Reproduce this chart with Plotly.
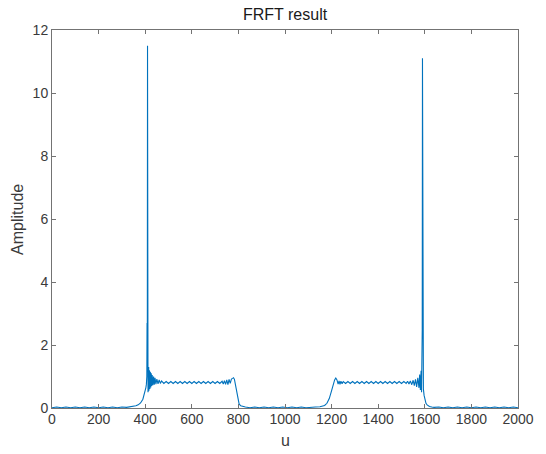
import plotly.graph_objects as go

# u positions and FRFT amplitudes
u_vals = [
    0, 20, 40, 60, 80, 100, 120, 140, 160, 180, 200, 220, 240, 260, 280, 300, 320, 340,
    350, 360, 370, 380, 390, 395, 400, 403, 405, 407, 408, 409, 410, 411, 412, 413, 414,
    415, 416, 418, 420, 422, 424, 426, 428, 430, 433, 436, 439, 442, 446, 450, 455, 460,
    465, 470, 480, 490, 500, 510, 520, 530, 540, 550, 560, 570, 580, 590, 600, 610, 620,
    630, 640, 650, 660, 670, 680, 690, 700, 710, 720, 730, 735, 740, 745, 750, 755, 760,
    765, 770, 775, 779, 783, 788, 793, 798, 803, 810, 820, 830, 850, 870, 890, 910, 930,
    950, 970, 990, 1010, 1030, 1050, 1070, 1090, 1110, 1130, 1150, 1160, 1170, 1180, 1190,
    1200, 1207, 1213, 1218, 1223, 1228, 1232, 1236, 1240, 1245, 1250, 1260, 1270, 1280,
    1290, 1300, 1310, 1320, 1330, 1340, 1350, 1360, 1370, 1380, 1390, 1400, 1410, 1420,
    1430, 1440, 1450, 1460, 1470, 1480, 1490, 1500, 1510, 1520, 1526, 1532, 1538, 1544,
    1550, 1555, 1560, 1565, 1570, 1575, 1578, 1581, 1584, 1586, 1588, 1589, 1590, 1591,
    1592, 1594, 1597, 1600, 1605, 1610, 1615, 1620, 1630, 1640, 1660, 1680, 1700, 1720,
    1740, 1760, 1780, 1800, 1820, 1840, 1860, 1880, 1900, 1920, 1940, 1960, 1980, 2000,
]
amp_vals = [
    0.01, 0.03, 0.01, 0.03, 0.01, 0.03, 0.01, 0.03, 0.01, 0.03, 0.01, 0.03, 0.01, 0.03, 0.01, 0.03, 0.02, 0.04,
    0.05, 0.07, 0.10, 0.16, 0.28, 0.40, 0.55, 0.65, 0.75, 1.00, 2.70, 1.20, 11.50, 3.00, 0.50, 1.40, 0.60,
    1.30, 0.55, 1.20, 0.60, 1.15, 0.65, 1.10, 0.70, 1.05, 0.72, 1.00, 0.74, 0.96, 0.76, 0.92, 0.77, 0.89,
    0.78, 0.86, 0.78, 0.84, 0.78, 0.84, 0.78, 0.84, 0.78, 0.84, 0.78, 0.84, 0.78, 0.84, 0.78, 0.84, 0.78,
    0.84, 0.78, 0.84, 0.78, 0.84, 0.78, 0.84, 0.78, 0.84, 0.78, 0.85, 0.76, 0.87, 0.75, 0.89, 0.74, 0.91,
    0.78, 0.92, 0.94, 0.96, 0.91, 0.72, 0.45, 0.25, 0.13, 0.07, 0.04, 0.03, 0.01, 0.03, 0.01, 0.03, 0.01,
    0.03, 0.01, 0.03, 0.01, 0.03, 0.01, 0.03, 0.01, 0.03, 0.03, 0.04, 0.05, 0.08, 0.15, 0.30,
    0.55, 0.75, 0.89, 0.95, 0.89, 0.76, 0.86, 0.75, 0.85, 0.77, 0.84, 0.78, 0.84, 0.78,
    0.84, 0.78, 0.84, 0.78, 0.84, 0.78, 0.84, 0.78, 0.84, 0.78, 0.84, 0.78, 0.84, 0.78,
    0.84, 0.78, 0.84, 0.78, 0.84, 0.78, 0.84, 0.78, 0.84, 0.78, 0.85, 0.76, 0.86, 0.74,
    0.88, 0.71, 0.91, 0.67, 0.96, 0.64, 1.06, 0.57, 1.18, 0.50, 1.40, 2.50, 11.10, 2.00,
    0.90, 0.60, 0.40, 0.25, 0.15, 0.10, 0.07, 0.05, 0.03, 0.02, 0.03, 0.01, 0.03, 0.01,
    0.03, 0.01, 0.03, 0.01, 0.03, 0.01, 0.03, 0.01, 0.03, 0.01, 0.03, 0.01, 0.03, 0.01,
]

x_ticks = [0, 200, 400, 600, 800, 1000, 1200, 1400, 1600, 1800, 2000]
y_ticks = [0, 2, 4, 6, 8, 10, 12]

title_text = "FRFT result"
x_label = "u"
y_label = "Amplitude"

FONT = "Liberation Sans, Arial, Helvetica, sans-serif"
AXIS_COLOR = "#737373"
TEXT_COLOR = "#3a3a3a"

fig = go.Figure()
fig.add_trace(go.Scatter(
    x=u_vals, y=amp_vals, mode="lines",
    line=dict(color="#0072BD", width=1.1),
    showlegend=False, hoverinfo="skip",
))

axis_common = dict(
    showline=True, linecolor=AXIS_COLOR, linewidth=1, mirror="ticks",
    ticks="inside", ticklen=4, tickcolor=AXIS_COLOR, tickwidth=1,
    showgrid=False, zeroline=False,
    tickfont=dict(family=FONT, size=14, color=TEXT_COLOR),
)

fig.update_layout(
    width=546, height=454,
    margin=dict(l=52, r=16, t=30, b=46),
    paper_bgcolor="white", plot_bgcolor="white",
    xaxis=dict(range=[0, 2000], tickvals=x_ticks, ticktext=[str(v) for v in x_ticks],
               ticklabelstandoff=-2, **axis_common),
    yaxis=dict(range=[0, 12], tickvals=y_ticks, ticktext=[str(v) for v in y_ticks], **axis_common),
    annotations=[
        dict(text=title_text, xref="paper", yref="paper", x=0.5, y=1 + 15 / 378,
             xanchor="center", yanchor="middle", showarrow=False,
             font=dict(family=FONT, size=16, color="#1a1a1a")),
        dict(text=x_label, xref="paper", yref="paper", x=0.5, y=-32 / 378,
             xanchor="center", yanchor="middle", showarrow=False,
             font=dict(family=FONT, size=16, color=TEXT_COLOR)),
        dict(text=y_label, xref="paper", yref="paper", x=-36 / 478, y=0.5,
             xanchor="center", yanchor="middle", showarrow=False, textangle=-90,
             font=dict(family=FONT, size=16, color=TEXT_COLOR)),
    ],
)

fig.write_html("out.html")
